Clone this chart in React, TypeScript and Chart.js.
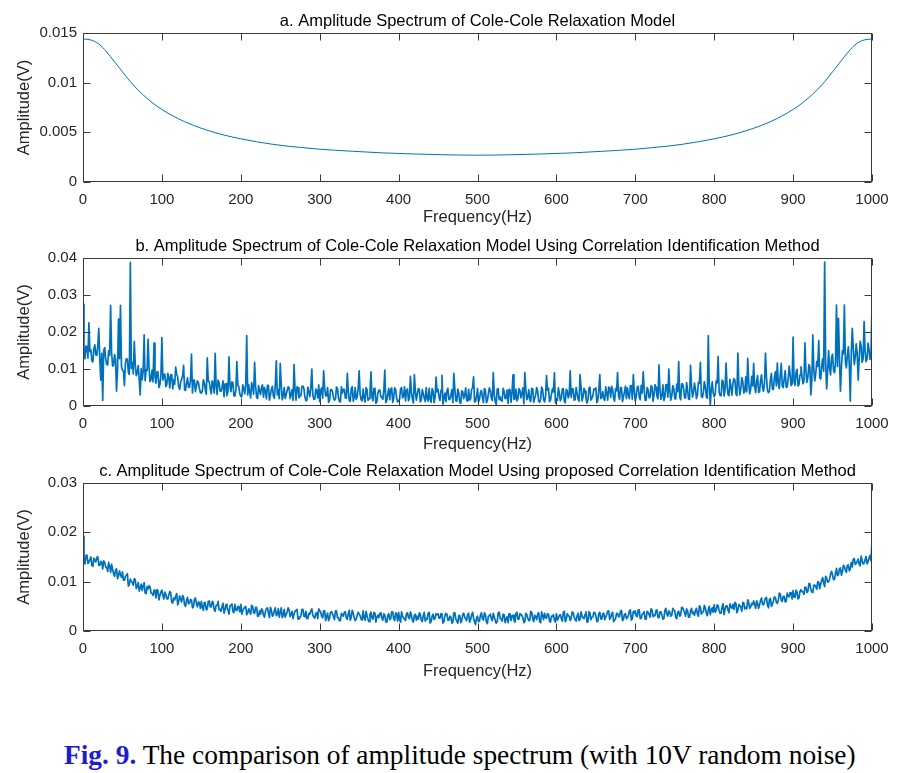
import React, { useEffect, useRef } from 'react';
import { Chart, registerables } from 'chart.js';

Chart.register(...registerables);

// ---------------- data ----------------
// Tick labels
const FREQ_TICKS = [0, 100, 200, 300, 400, 500, 600, 700, 800, 900, 1000];
const Y_TICKS_A = [0, 0.005, 0.01, 0.015];
const Y_TICKS_B = [0, 0.01, 0.02, 0.03, 0.04];
const Y_TICKS_C = [0, 0.01, 0.02, 0.03];

// Amplitudes below are given in units of 1e-4 V
const AMP_UNIT = 1e-4;

// a. theoretical Cole-Cole spectrum
const FREQ_A = [
  0, 10, 20, 30, 40, 50, 60, 70, 80, 90, 100, 120, 140, 160, 180, 200, 220, 240, 260, 280, 300,
  340, 380, 420, 460, 500, 540, 580, 620, 660, 700, 720, 740, 760, 780, 800, 820, 840, 860, 880, 900,
  910, 920, 930, 940, 950, 960, 970, 980, 990, 1000,
];
const AMP_A = [
  144, 143, 139, 131, 121, 111, 101, 92.5, 85, 78.5, 73, 64, 57, 51.5, 47, 43.5, 40.5, 38, 36, 34.5, 33,
  31, 29.3, 28.2, 27.4, 27, 27.4, 28.2, 29.3, 31, 33, 34.5, 36, 38, 40.5, 43.5, 47, 51.5, 57, 64, 73,
  78.5, 85, 92.5, 101, 111, 121, 131, 139, 143, 144,
];

// b./c. spectra: samples at 0, 2.5, 5, ... 1000 Hz ("ON") and at the
// half-way frequencies 1.25, 3.75, ... 998.75 Hz ("MID")
const SAMPLE_STEP_HZ = 2.5;

const AMP_B_ON = [
  275, 128, 161, 225, 152, 119, 165, 137, 210, 70, 15, 158, 112, 149, 272, 108, 139, 40, 235, 272,
  97, 55, 128, 90, 388, 117, 175, 82, 109, 30, 71, 192, 98, 180, 66, 97, 170, 62, 92, 58,
  185, 85, 52, 88, 49, 84, 71, 105, 79, 45, 72, 110, 42, 76, 51, 140, 70, 39, 68, 48,
  35, 71, 44, 130, 66, 33, 59, 142, 31, 63, 40, 68, 59, 28, 133, 39, 63, 27, 120, 52,
  26, 57, 33, 190, 58, 22, 50, 118, 24, 55, 31, 57, 50, 19, 56, 29, 53, 21, 122, 44,
  115, 17, 50, 30, 52, 20, 44, 112, 16, 49, 27, 53, 47, 14, 51, 25, 100, 18, 46, 22,
  12, 49, 95, 27, 50, 15, 44, 23, 19, 48, 12, 52, 45, 21, 88, 14, 47, 13, 50, 24,
  95, 17, 46, 11, 44, 20, 92, 14, 48, 12, 43, 26, 18, 97, 15, 47, 45, 10, 49, 21,
  13, 46, 22, 52, 42, 14, 80, 19, 85, 16, 47, 11, 44, 21, 50, 13, 18, 47, 9, 78,
  45, 15, 83, 22, 12, 48, 19, 44, 88, 14, 46, 10, 41, 20, 49, 13, 16, 45, 79, 12,
  47, 18, 42, 9, 44, 14, 49, 22, 90, 11, 46, 17, 15, 48, 20, 43, 45, 10, 84, 19,
  14, 47, 22, 49, 90, 17, 44, 12, 46, 21, 50, 13, 18, 45, 11, 82, 48, 15, 47, 90,
  20, 49, 14, 46, 13, 45, 22, 95, 47, 16, 50, 19, 85, 14, 48, 23, 17, 51, 21, 46,
  49, 15, 85, 24, 20, 52, 16, 48, 53, 22, 47, 90, 18, 50, 25, 54, 49, 20, 55, 85,
  14, 52, 24, 56, 92, 15, 50, 22, 55, 13, 58, 26, 111, 18, 57, 24, 58, 100, 16, 55,
  21, 59, 120, 17, 60, 22, 63, 19, 110, 24, 62, 20, 64, 118, 23, 66, 26, 190, 2, 65,
  25, 68, 134, 28, 70, 27, 116, 31, 72, 29, 74, 33, 143, 30, 77, 35, 79, 129, 33, 80,
  115, 36, 82, 38, 84, 40, 143, 42, 41, 88, 45, 92, 116, 47, 115, 50, 96, 52, 108, 55,
  186, 56, 99, 58, 106, 60, 171, 64, 112, 30, 192, 68, 121, 177, 73, 128, 389, 46, 150, 84,
  140, 90, 273, 237, 40, 150, 273, 103, 160, 13, 210, 112, 168, 70, 175, 118, 228, 120, 170, 126,
  277,
];

const AMP_B_MID = [
  136, 162, 129, 147, 122, 154, 138, 162, 128, 142, 150, 128, 111, 137, 144, 110, 125, 95, 128, 106,
  95, 115, 126, 86, 102, 87, 113, 89, 71, 101, 94, 68, 96, 102, 72, 65, 81, 92, 50, 83,
  70, 86, 58, 77, 85, 46, 59, 86, 53, 64, 81, 44, 63, 50, 70, 35, 70, 53, 63, 36,
  41, 63, 32, 67, 47, 68, 35, 55, 70, 40, 51, 25, 60, 40, 55, 65, 28, 42, 56, 33,
  25, 48, 58, 30, 37, 63, 32, 54, 20, 41, 51, 24, 40, 56, 16, 45, 27, 57, 30, 20,
  58, 28, 20, 42, 49, 31, 15, 45, 52, 22, 28, 54, 24, 16, 38, 50, 31, 19, 41, 57,
  42, 21, 50, 28, 10, 44, 38, 16, 51, 23, 11, 35, 45, 21, 39, 13, 52, 24, 18, 46,
  32, 14, 22, 50, 15, 39, 25, 47, 7, 35, 43, 23, 41, 9, 33, 17, 49, 21, 45, 11,
  18, 50, 26, 14, 46, 22, 36, 8, 40, 32, 46, 16, 34, 12, 20, 48, 10, 40, 24, 38,
  23, 43, 5, 35, 41, 17, 29, 9, 47, 13, 35, 7, 39, 29, 15, 45, 19, 49, 11, 25,
  11, 37, 23, 47, 9, 33, 41, 15, 31, 5, 47, 25, 13, 39, 21, 7, 44, 36, 18, 46,
  20, 42, 34, 6, 44, 24, 16, 48, 10, 30, 40, 10, 51, 18, 26, 43, 12, 32, 38, 8,
  15, 35, 21, 47, 9, 41, 31, 23, 46, 17, 34, 13, 50, 25, 40, 8, 48, 16, 28, 44,
  9, 43, 20, 39, 15, 35, 51, 23, 45, 13, 41, 27, 50, 12, 38, 20, 30, 55, 18, 40,
  27, 53, 17, 35, 46, 16, 44, 24, 52, 30, 50, 20, 43, 29, 15, 57, 24, 40, 28, 48,
  19, 39, 25, 59, 46, 22, 44, 18, 54, 37, 46, 30, 61, 27, 37, 53, 21, 59, 45, 35,
  32, 62, 38, 28, 66, 44, 56, 28, 52, 62, 70, 28, 58, 46, 66, 40, 38, 64, 46, 54,
  53, 67, 37, 69, 50, 62, 78, 36, 72, 46, 76, 54, 62, 84, 54, 74, 50, 72, 86, 60,
  64, 91, 54, 84, 81, 67, 94, 78, 106, 70, 97, 89, 107, 77, 108, 94, 120, 93, 103, 132,
  96, 119, 107, 132, 104, 141, 119, 136, 112, 144, 154, 132, 142, 128, 162, 128, 147, 128, 152, 140,
];

const AMP_C_ON = [
  192, 136, 154, 140, 150, 131, 143, 149, 133, 141, 126, 139, 129, 139, 119, 126, 111, 126, 112, 114,
  120, 103, 113, 91, 105, 98, 106, 86, 98, 87, 82, 98, 76, 85, 89, 76, 83, 67, 82, 72,
  83, 65, 74, 65, 80, 58, 67, 71, 53, 71, 59, 68, 50, 68, 57, 63, 49, 67, 49, 57,
  60, 42, 57, 45, 61, 49, 58, 40, 52, 43, 40, 56, 43, 47, 34, 52, 39, 54, 41, 49,
  54, 41, 48, 33, 45, 34, 50, 36, 48, 30, 34, 42, 28, 45, 36, 48, 30, 41, 31, 45,
  38, 27, 44, 33, 47, 29, 40, 34, 42, 24, 27, 44, 30, 40, 25, 34, 45, 28, 36, 25,
  41, 30, 41, 21, 36, 26, 39, 29, 41, 27, 21, 36, 30, 39, 24, 42, 28, 36, 21, 32,
  34, 24, 41, 22, 31, 19, 38, 24, 36, 28, 27, 37, 22, 32, 18, 35, 25, 39, 21, 34,
  38, 18, 30, 24, 35, 27, 39, 21, 32, 22, 24, 34, 19, 38, 25, 36, 16, 30, 23, 35,
  35, 26, 32, 19, 36, 22, 30, 16, 37, 24, 16, 31, 21, 36, 25, 34, 18, 32, 26, 13,
  30, 20, 37, 22, 33, 15, 31, 25, 36, 21, 19, 38, 24, 34, 17, 29, 35, 21, 32, 18,
  38, 24, 34, 27, 19, 33, 21, 40, 25, 32, 23, 37, 17, 31, 36, 26, 34, 18, 29, 21,
  35, 26, 33, 20, 40, 23, 31, 21, 39, 28, 20, 36, 24, 30, 25, 39, 19, 36, 28, 38,
  31, 20, 38, 24, 36, 28, 40, 24, 35, 19, 25, 36, 29, 42, 24, 35, 27, 41, 22, 40,
  41, 29, 43, 26, 35, 24, 40, 33, 45, 29, 31, 43, 27, 39, 24, 42, 34, 41, 30, 46,
  41, 25, 40, 32, 47, 37, 45, 28, 41, 35, 32, 46, 30, 48, 38, 52, 36, 43, 33, 47,
  53, 42, 51, 36, 49, 33, 51, 42, 55, 46, 44, 56, 43, 51, 40, 57, 48, 63, 46, 56,
  61, 46, 56, 53, 67, 53, 67, 53, 64, 50, 61, 68, 56, 77, 62, 70, 59, 77, 69, 78,
  82, 68, 79, 67, 84, 79, 89, 78, 96, 84, 78, 93, 85, 99, 95, 108, 90, 107, 100, 116,
  113, 105, 127, 114, 128, 120, 131, 119, 134, 126, 130, 147, 137, 146, 132, 143, 137, 151, 140, 153,
  185,
];

const AMP_C_MID = [
  140, 153, 137, 145, 133, 148, 140, 151, 133, 139, 142, 130, 121, 132, 135, 116, 123, 106, 122, 109,
  103, 111, 116, 94, 101, 93, 104, 91, 81, 95, 91, 77, 90, 92, 77, 72, 80, 84, 63, 79,
  72, 79, 65, 73, 77, 57, 63, 76, 59, 64, 72, 53, 62, 55, 64, 47, 64, 55, 59, 46,
  48, 58, 43, 60, 49, 60, 43, 52, 60, 44, 50, 36, 54, 43, 51, 55, 37, 43, 50, 39,
  34, 46, 50, 36, 40, 52, 37, 48, 30, 41, 45, 32, 40, 47, 27, 42, 33, 47, 34, 28,
  47, 32, 28, 39, 43, 33, 25, 40, 44, 28, 31, 44, 29, 25, 36, 41, 32, 26, 37, 45,
  38, 27, 41, 30, 21, 38, 35, 23, 41, 27, 21, 33, 38, 26, 35, 22, 42, 27, 24, 38,
  31, 22, 26, 40, 23, 34, 27, 38, 18, 32, 36, 26, 35, 19, 31, 23, 39, 25, 37, 20,
  24, 39, 27, 21, 37, 25, 32, 18, 34, 30, 37, 22, 31, 20, 24, 38, 19, 34, 26, 33,
  26, 35, 16, 31, 34, 22, 28, 18, 37, 20, 31, 17, 33, 28, 21, 36, 23, 38, 19, 26,
  19, 32, 25, 37, 18, 30, 34, 21, 29, 16, 37, 26, 20, 33, 24, 17, 35, 31, 22, 36,
  24, 35, 31, 17, 36, 26, 22, 38, 19, 29, 34, 19, 39, 23, 27, 35, 20, 30, 33, 18,
  22, 32, 25, 38, 19, 35, 30, 26, 37, 23, 31, 21, 39, 27, 34, 18, 39, 23, 29, 37,
  19, 36, 25, 35, 23, 33, 41, 27, 38, 22, 36, 29, 40, 21, 34, 25, 31, 43, 25, 36,
  30, 43, 25, 34, 39, 24, 38, 28, 43, 32, 42, 27, 39, 32, 25, 46, 30, 38, 32, 42,
  27, 38, 30, 48, 42, 30, 41, 28, 46, 38, 42, 34, 51, 34, 39, 47, 31, 50, 43, 38,
  38, 53, 41, 36, 55, 44, 51, 37, 49, 54, 58, 37, 54, 48, 58, 45, 45, 58, 49, 53,
  54, 61, 46, 62, 54, 60, 68, 47, 66, 54, 69, 58, 63, 75, 60, 70, 60, 71, 78, 65,
  69, 83, 65, 81, 80, 74, 88, 81, 96, 79, 93, 90, 100, 86, 103, 97, 111, 99, 105, 121,
  104, 117, 112, 126, 113, 133, 123, 133, 122, 139, 145, 135, 141, 135, 152, 136, 145, 136, 148, 142,
];

// ---------------- style ----------------
const LINE_COLOR = '#0072BD';
const AXIS_COLOR = '#3a3a3a';
const TEXT_COLOR = '#262626';
const FONT_FAMILY = '"Liberation Sans", Arial, Helvetica, sans-serif';
const TICK_LEN = 7;

type Pt = { x: number; y: number };

function pointsFromPairs(freqs: number[], amps: number[]): Pt[] {
  return amps.map((v, i) => ({ x: freqs[i], y: v * AMP_UNIT }));
}

function pointsFromSampled(on: number[], mid: number[]): Pt[] {
  const pts: Pt[] = [];
  on.forEach((v, i) => {
    pts.push({ x: i * SAMPLE_STEP_HZ, y: v * AMP_UNIT });
    if (i < mid.length) pts.push({ x: i * SAMPLE_STEP_HZ + SAMPLE_STEP_HZ / 2, y: mid[i] * AMP_UNIT });
  });
  return pts;
}

const boxPlugin = {
  id: 'matlabBox',
  afterDraw(chart: any, _args: any, opts: any) {
    const { ctx, chartArea: a, scales } = chart;
    const xs = scales.x;
    const ys = scales.y;
    const L = Math.round(a.left) + 0.5;
    const R = Math.round(a.right) - 0.5;
    const T = Math.round(a.top) + 0.5;
    const B = Math.round(a.bottom) - 0.5;
    ctx.save();
    ctx.strokeStyle = AXIS_COLOR;
    ctx.lineWidth = 1;
    ctx.strokeRect(L, T, R - L, B - T);
    ctx.beginPath();
    xs.ticks.forEach((t: any) => {
      const px = Math.round(xs.getPixelForValue(t.value)) + 0.5;
      ctx.moveTo(px, B);
      ctx.lineTo(px, B - TICK_LEN);
      ctx.moveTo(px, T);
      ctx.lineTo(px, T + TICK_LEN);
    });
    ys.ticks.forEach((t: any) => {
      const py = Math.round(ys.getPixelForValue(t.value)) + 0.5;
      ctx.moveTo(L, py);
      ctx.lineTo(L + TICK_LEN, py);
      ctx.moveTo(R, py);
      ctx.lineTo(R - TICK_LEN, py);
    });
    ctx.stroke();
    if (opts && opts.title) {
      ctx.font = `16.5px ${FONT_FAMILY}`;
      ctx.fillStyle = '#000';
      ctx.textAlign = 'center';
      ctx.textBaseline = 'alphabetic';
      ctx.fillText(opts.title, (a.left + a.right) / 2, a.top - 7);
    }
    ctx.restore();
  },
};

type PanelProps = {
  top: number;
  height: number;
  padTop: number;
  xAxisH: number;
  title: string;
  points: Pt[];
  yTicks: number[];
  lineWidth: number;
  smooth?: boolean;
};

function Panel({ top, height, padTop, xAxisH, title, points, yTicks, lineWidth, smooth }: PanelProps) {
  const ref = useRef<HTMLCanvasElement>(null);
  useEffect(() => {
    const chart = new Chart(ref.current as HTMLCanvasElement, {
      type: 'line',
      data: {
        datasets: [
          {
            data: points,
            borderColor: LINE_COLOR,
            borderWidth: lineWidth,
            borderJoinStyle: 'round',
            pointRadius: 0,
            tension: 0,
            cubicInterpolationMode: smooth ? 'monotone' : 'default',
            fill: false,
          } as any,
        ],
      },
      options: {
        animation: false,
        responsive: false,
        maintainAspectRatio: false,
        devicePixelRatio: 1,
        events: [],
        layout: { padding: { top: padTop, right: 36, left: 0, bottom: 0 } },
        plugins: {
          legend: { display: false },
          tooltip: { enabled: false },
          title: { display: false },
          matlabBox: { title },
        } as any,
        scales: {
          x: {
            type: 'linear',
            min: 0,
            max: 1000,
            afterBuildTicks: (s: any) => {
              s.ticks = FREQ_TICKS.map((v) => ({ value: v }));
            },
            afterFit: (s: any) => {
              s.height = xAxisH;
            },
            ticks: {
              autoSkip: false,
              maxRotation: 0,
              padding: 9,
              color: TEXT_COLOR,
              font: { family: FONT_FAMILY, size: 15 },
              callback: (v: any) => String(v),
            },
            grid: { display: false, drawTicks: false },
            border: { display: false },
            title: {
              display: true,
              text: 'Frequency(Hz)',
              color: TEXT_COLOR,
              font: { family: FONT_FAMILY, size: 16.5 },
              padding: { top: 0, bottom: 0 },
            },
          },
          y: {
            type: 'linear',
            min: 0,
            max: yTicks[yTicks.length - 1],
            afterBuildTicks: (s: any) => {
              s.ticks = yTicks.map((v) => ({ value: v }));
            },
            afterFit: (s: any) => {
              s.width = 83;
            },
            ticks: {
              autoSkip: false,
              padding: 6,
              color: TEXT_COLOR,
              font: { family: FONT_FAMILY, size: 15 },
              callback: (v: any) => String(v),
            },
            grid: { display: false, drawTicks: false },
            border: { display: false },
            title: {
              display: true,
              text: 'Amplitude(V)',
              color: TEXT_COLOR,
              font: { family: FONT_FAMILY, size: 16.5 },
              padding: { top: 15, bottom: 0 },
            },
          },
        },
      },
      plugins: [boxPlugin as any],
    });
    return () => chart.destroy();
  }, []);
  return (
    <canvas
      ref={ref}
      width={908}
      height={height}
      style={{ position: 'absolute', left: 0, top, width: 908, height }}
    />
  );
}

const POINTS_A = pointsFromPairs(FREQ_A, AMP_A);
const POINTS_B = pointsFromSampled(AMP_B_ON, AMP_B_MID);
const POINTS_C = pointsFromSampled(AMP_C_ON, AMP_C_MID);

export default function App() {
  return (
    <div
      style={{
        position: 'absolute',
        left: 0,
        top: 0,
        width: 908,
        height: 773,
        background: '#ffffff',
        overflow: 'hidden',
      }}
    >
      <Panel
        top={0}
        height={227}
        padTop={33}
        xAxisH={45}
        title="a. Amplitude Spectrum of Cole-Cole Relaxation Model"
        points={POINTS_A}
        yTicks={Y_TICKS_A}
        lineWidth={1}
        smooth
      />
      <Panel
        top={227}
        height={227}
        padTop={31}
        xAxisH={48}
        title="b. Amplitude Spectrum of Cole-Cole Relaxation Model Using Correlation Identification Method"
        points={POINTS_B}
        yTicks={Y_TICKS_B}
        lineWidth={1.7}
      />
      <Panel
        top={454}
        height={227}
        padTop={29}
        xAxisH={50}
        title="c. Amplitude Spectrum of Cole-Cole Relaxation Model Using proposed Correlation Identification Method"
        points={POINTS_C}
        yTicks={Y_TICKS_C}
        lineWidth={1.7}
      />
      <div
        style={{
          position: 'absolute',
          left: 64,
          top: 739,
          fontFamily: '"Liberation Serif", "Times New Roman", serif',
          fontSize: 27.4,
          lineHeight: '32px',
          whiteSpace: 'nowrap',
          color: '#000',
        }}
      >
        <span style={{ color: '#1c1cd6', fontWeight: 'bold' }}>Fig. 9.</span> The comparison of amplitude spectrum (with 10V random noise)
      </div>
    </div>
  );
}
